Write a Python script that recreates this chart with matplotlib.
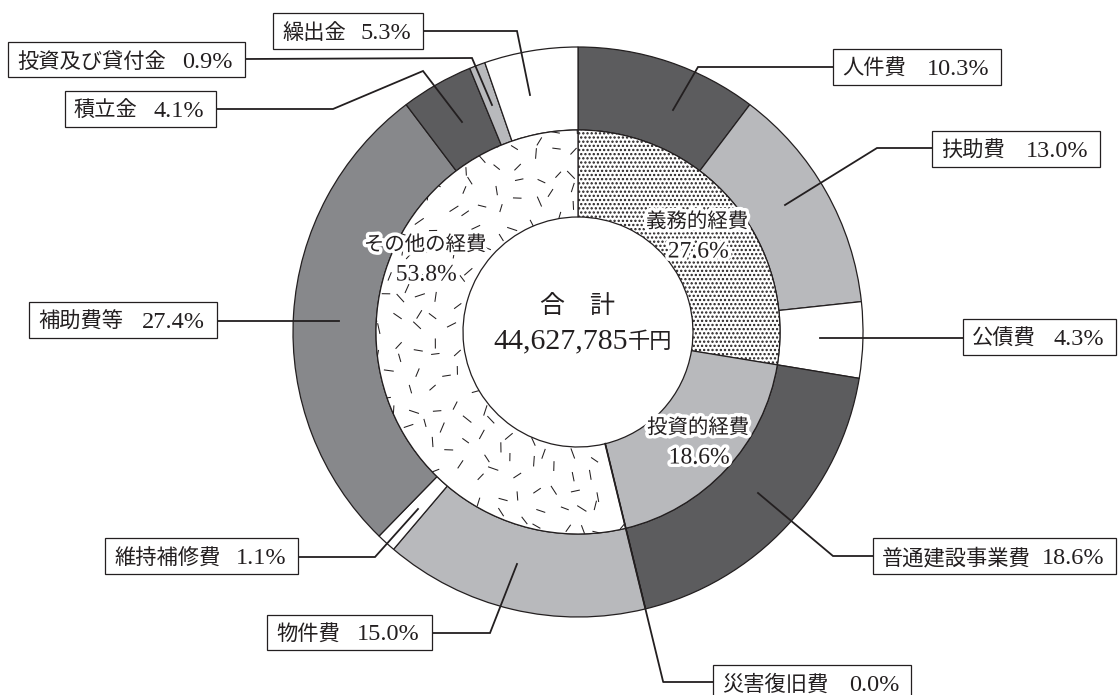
import numpy as np
import matplotlib
matplotlib.use("Agg")
import matplotlib.pyplot as plt
import matplotlib.patheffects as pe
from matplotlib.collections import LineCollection
from matplotlib.patches import Rectangle

plt.rcParams['font.family'] = ['Liberation Serif', 'Noto Sans CJK JP']
plt.rcParams['hatch.linewidth'] = 1.1

W, H = 1119, 695

# 性質別歳出（外側：内訳、内側：区分）
outer_labels = ['人件費', '扶助費', '公債費', '普通建設事業費', '災害復旧費', '物件費',
                '維持補修費', '補助費等', '積立金', '投資及び貸付金', '繰出金']
outer_values = [10.3, 13.0, 4.3, 18.6, 0.0, 15.0, 1.1, 27.4, 4.1, 0.9, 5.3]
inner_labels = ['義務的経費', '投資的経費', 'その他の経費']
inner_values = [27.6, 18.6, 53.8]
total_title = '合\u3000計'
total_amount = '44,627,785'
total_unit = '千円'

DARK, LIGHT, MID, WHITE = '#5c5c5e', '#b8b9bc', '#87888b', '#ffffff'
INK = '#231f20'
outer_colors = [DARK, LIGHT, WHITE, DARK, WHITE, LIGHT, WHITE, MID, DARK, LIGHT, WHITE]
inner_colors = [WHITE, LIGHT, WHITE]

JP = 'Noto Sans CJK JP'
NUM = 'Liberation Serif'


# ピクセル座標（左上原点）で書いた位置を軸座標へ
def P(x, y):
    return (x, H - y)


CX, CY = 578, 332
R_OUT, R_MID, R_IN = 285, 202, 115

# ラベル枠 (左, 上, 右, 下) と引出線の折れ点
label_boxes = {
    '人件費': (833, 49, 1001, 85),
    '扶助費': (932, 131, 1100, 167),
    '公債費': (963, 319, 1116, 355),
    '普通建設事業費': (873, 538, 1116, 574),
    '災害復旧費': (713, 665, 911, 701),
    '物件費': (267, 615, 432, 650),
    '維持補修費': (105, 538, 298, 574),
    '補助費等': (29, 302, 217, 338),
    '積立金': (65, 91, 216, 127),
    '投資及び貸付金': (8, 42, 245, 77),
    '繰出金': (273, 13, 423, 49),
}
leaders = {
    '人件費': [(833, 67), (698, 67), (673, 110)],
    '扶助費': [(932, 148), (877, 148), (785, 205)],
    '公債費': [(963, 338), (820, 338)],
    '普通建設事業費': [(873, 556), (833, 556), (758, 493)],
    '物件費': [(432, 633), (490, 633), (517, 564)],
    '維持補修費': [(298, 557), (375, 557), (418, 509)],
    '補助費等': [(217, 321), (339, 321)],
    '積立金': [(216, 109), (333, 109), (423, 71), (462, 122)],
    '投資及び貸付金': [(245, 59), (472, 58), (492, 105)],
    '繰出金': [(423, 31), (517, 31), (530, 95)],
}
inner_text_pos = [(697, 222), (698, 428), (425, 245)]

fig = plt.figure(figsize=(W / 100, H / 100), dpi=100)
ax = fig.add_axes([0, 0, 1, 1])

wedge_kw = dict(edgecolor=INK, linewidth=0.9)
outer_wedges, _ = ax.pie(outer_values, radius=R_OUT, center=P(CX, CY), startangle=90,
                         counterclock=False, colors=outer_colors,
                         wedgeprops=dict(width=R_OUT - R_MID, **wedge_kw))
inner_wedges, _ = ax.pie(inner_values, radius=R_MID, center=P(CX, CY), startangle=90,
                         counterclock=False, colors=inner_colors,
                         wedgeprops=dict(width=R_MID - R_IN, **wedge_kw))
ax.set_xlim(0, W)
ax.set_ylim(0, H)
ax.set_aspect('equal')
ax.axis('off')

# 義務的経費：網点
inner_wedges[0].set_hatch('....')

# その他の経費：短い破線の地模様（ゆらぎを入れた同心格子に配置）
other = inner_wedges[2]
rng = np.random.default_rng(5)
cx, cy = P(CX, CY)
segs = []
for r0 in np.arange(R_IN + 8, R_MID, 19):
    step = np.degrees(21 / r0)
    for a0 in np.arange(other.theta1, other.theta2, step):
        r = r0 + rng.uniform(-6, 6)
        t = np.radians(a0 + rng.uniform(-0.35, 0.35) * step)
        a = rng.uniform(0, np.pi)
        l = rng.uniform(8, 11)
        x, y = cx + r * np.cos(t), cy + r * np.sin(t)
        dx, dy = l / 2 * np.cos(a), l / 2 * np.sin(a)
        segs.append([(x - dx, y - dy), (x + dx, y + dy)])
dashes = LineCollection(segs, colors=INK, linewidths=0.75, zorder=2)
dashes.set_clip_path(other)
ax.add_collection(dashes)

# 引出線
for name, pts in leaders.items():
    xs, ys = zip(*[P(x, y) for x, y in pts])
    ax.plot(xs, ys, color=INK, lw=1.3, zorder=4, solid_joinstyle='miter')

# 災害復旧費（0.0%）は境界線の延長で引き出す
k = outer_labels.index('災害復旧費')
theta = np.radians(sum(outer_values[:k]) * 3.6)
y_end = 682
r_end = (y_end - CY) / -np.cos(theta)
p0 = (CX + R_IN * np.sin(theta), CY - R_IN * np.cos(theta))
p1 = (CX + r_end * np.sin(theta), y_end)
box = label_boxes['災害復旧費']
xs, ys = zip(*[P(*p) for p in (p0, p1, (box[0], y_end))])
ax.plot(xs, ys, color=INK, lw=1.3, zorder=4)

# ラベル枠：項目名は左寄せ、構成比は右寄せ
for name, val in zip(outer_labels, outer_values):
    l, t_, r, b = label_boxes[name]
    ax.add_patch(Rectangle(P(l, b), r - l, b - t_, facecolor='white',
                           edgecolor=INK, lw=0.9, zorder=5, clip_on=False))
    base = (t_ + b) / 2 + 8
    ax.text(*P(l + 9, base), name, ha='left', va='baseline', fontsize=15.3,
            family=JP, color=INK, zorder=6)
    ax.text(*P(r - 12, base), f'{val:.1f}%', ha='right', va='baseline', fontsize=17.5,
            family=NUM, color=INK, zorder=6)

# 内側の区分名
halo = [pe.withStroke(linewidth=5, foreground='white')]
for (x, y), name, val in zip(inner_text_pos, inner_labels, inner_values):
    ax.text(*P(x, y), name, ha='center', va='center', fontsize=14.7, family=JP,
            color=INK, path_effects=halo, zorder=7)
    ax.text(*P(x + 1, y + 30), f'{val:.1f}%', ha='center', va='center', fontsize=17,
            family=NUM, color=INK, path_effects=halo, zorder=7)

# 中央の合計
ax.text(*P(CX, 306), total_title, ha='center', va='center', fontsize=18, family=JP,
        color=INK)
ax.text(*P(628, 348), total_amount, ha='right', va='baseline', fontsize=21.5,
        family=NUM, color=INK)
ax.text(*P(628, 348), total_unit, ha='left', va='baseline', fontsize=16, family=JP,
        color=INK)

fig.savefig('out.png', dpi=100)
